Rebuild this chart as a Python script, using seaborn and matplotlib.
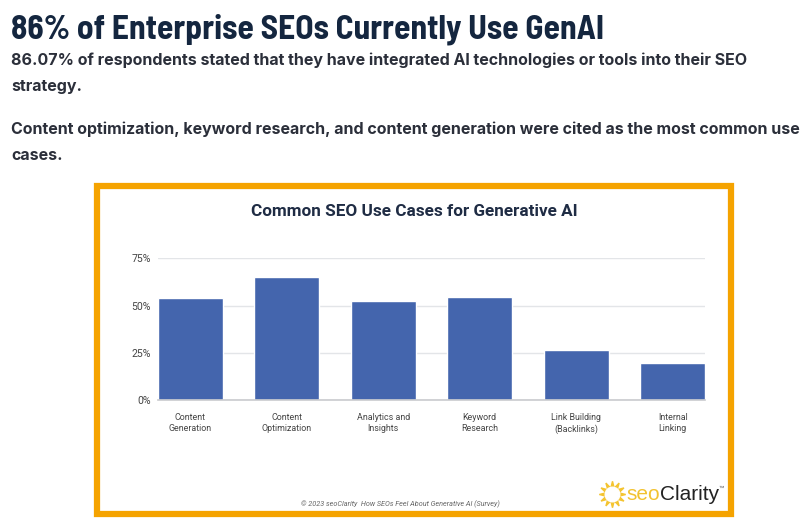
import matplotlib
matplotlib.use("Agg")
import matplotlib.pyplot as plt
from matplotlib.patches import Rectangle
from matplotlib.lines import Line2D
import seaborn as sns
import pandas as pd

categories = ["Content\nGeneration", "Content\nOptimization", "Analytics and\nInsights",
              "Keyword\nResearch", "Link Building\n(Backlinks)", "Internal\nLinking"]
values = [54.3, 65, 52.3, 54.7, 26.5, 19.5]
y_ticks = [0, 25, 50, 75]
y_labels = ["0%", "25%", "50%", "75%"]

heading = "86% of Enterprise SEOs Currently Use GenAI"
para_lines = [
    ("86.07% of respondents stated that they have integrated AI technologies or tools into their SEO", 60),
    ("strategy.", 87),
    ("Content optimization, keyword research, and content generation were cited as the most common use", 129),
    ("cases.", 156),
]
chart_title = "Common SEO Use Cases for Generative AI"
footer = "© 2023 seoClarity  How SEOs Feel About Generative AI (Survey)"

W, H = 808, 528
sns.set_theme(style="white")
plt.rcParams["font.family"] = ["Roboto", "DejaVu Sans"]
fig = plt.figure(figsize=(W / 100, H / 100), dpi=100, facecolor="white")

def fx(x): return x / W
def fy(y): return 1 - y / H

# orange frame
fig.add_artist(Rectangle((fx(97), fy(514)), 634 / W, 328 / H, transform=fig.transFigure,
                         facecolor="white", edgecolor="#F5A300", linewidth=4.5, zorder=-1))

fig.text(fx(11), fy(29), heading, family=["Barlow Semi Condensed", "Roboto"], fontweight="bold",
         fontsize=24.1, color="#14263F", va="center", ha="left")
for line, y in para_lines:
    fig.text(fx(11), fy(y), line, family=["Inter", "DejaVu Sans"], fontweight="bold",
             fontsize=11.5, color="#2B2F3A", va="center", ha="left")

fig.text(fx(414), fy(212), chart_title, fontweight="bold", fontsize=12.3, color="#1F2C44",
         va="center", ha="center")

ax = fig.add_axes([fx(158), fy(400), (705 - 158) / W, (400 - 258.5) / H])
ax.patch.set_alpha(0)
df = pd.DataFrame({"category": categories, "value": values})
sns.barplot(data=df, x="category", y="value", color="#4465AD", saturation=1, width=0.67, ax=ax)
ax.set_xlim(-0.335, 5.335)
ax.set_ylim(0, 75)
ax.set_yticks(y_ticks, y_labels)
ax.set_xlabel("")
ax.set_ylabel("")
ax.yaxis.grid(True, color="#E3E5E8", linewidth=1)
ax.set_axisbelow(True)
sns.despine(ax=ax, left=True, top=True, right=True)
ax.spines["bottom"].set_color("#C9CBCE")
ax.spines["bottom"].set_linewidth(1.2)
ax.tick_params(axis="y", length=0, pad=5, labelsize=7.6, labelcolor="#444444")
ax.tick_params(axis="x", length=0, pad=9, labelsize=6.4, labelcolor="#444444")
for lab in ax.get_xticklabels():
    lab.set_linespacing(1.4)

fig.text(fx(400), fy(504), footer, style="italic", fontsize=5.2, color="#666666", va="center", ha="center")

# logo
fig.add_artist(Line2D([fx(612)], [fy(494)], transform=fig.transFigure, marker=(12, 1, 0), markersize=19,
                      markerfacecolor="#F4C430", markeredgecolor="#F4C430", linestyle="none"))
fig.add_artist(Line2D([fx(612)], [fy(494)], transform=fig.transFigure, marker="o", markersize=10.5,
                      markerfacecolor="white", markeredgecolor="white", linestyle="none"))
t = fig.text(fx(626), fy(494), "seo", family="Liberation Sans", fontsize=15, color="#F2C230", va="center", ha="left")
fig.canvas.draw()
bb = t.get_window_extent()
t2 = fig.text(bb.x1 / W, fy(494), "Clarity", family="Liberation Sans", fontsize=15, color="#222222", va="center", ha="left")
bb2 = t2.get_window_extent()
fig.text(bb2.x1 / W, fy(488), "™", family="Liberation Sans", fontsize=4, color="#555555", va="center", ha="left")

fig.savefig("out.png", dpi=100, facecolor="white")
